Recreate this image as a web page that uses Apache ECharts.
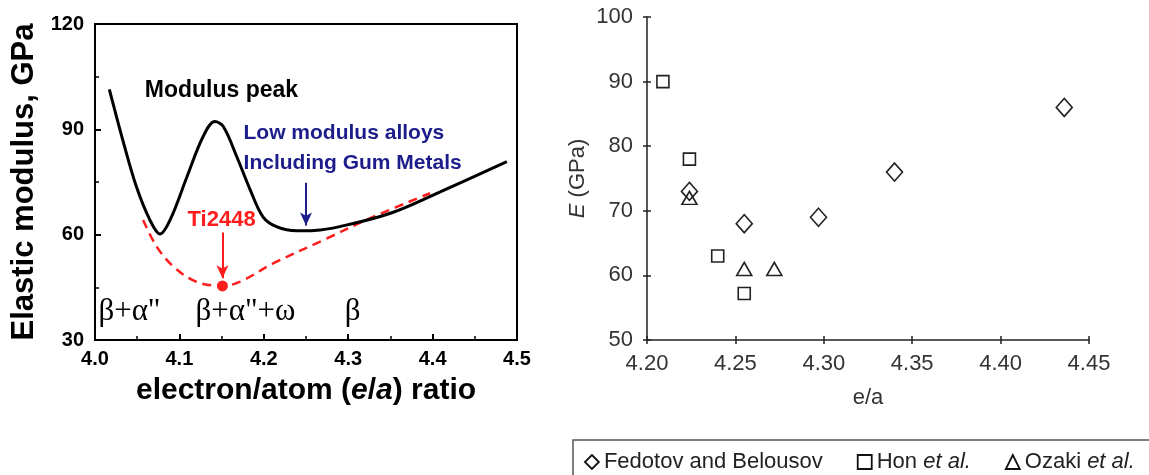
<!DOCTYPE html>
<html><head><meta charset="utf-8">
<script src="https://cdn.jsdelivr.net/npm/echarts@6/dist/echarts.min.js"></script>
<style>html,body{margin:0;padding:0;background:#fff}#c{width:1149px;height:475px}</style>
</head><body><div id="c"></div>
<script>
// ---- Left panel data ----
const curveX = [4.017, 4.034, 4.049, 4.065, 4.077, 4.089, 4.109, 4.128, 4.142, 4.152, 4.168, 4.184, 4.199, 4.215, 4.239, 4.260, 4.290, 4.350, 4.409, 4.488];
const curveY = [101.4, 86.0, 73.7, 64.2, 60.2, 64.2, 76.5, 87.9, 92.2, 90.8, 82.2, 72.7, 65.1, 62.3, 61.1, 61.2, 62.3, 66.1, 72.2, 80.8];
const dashX = [4.057, 4.073, 4.093, 4.120, 4.151, 4.172, 4.211, 4.271, 4.330, 4.397];
const dashY = [64.2, 56.6, 50.9, 46.6, 45.4, 46.6, 51.8, 58.5, 65.1, 71.8];
const tiPoint = [4.151, 45.4];
const redArrow = [[4.151, 60.6], [4.151, 47.6]];
const blueArrow = [[4.250, 74.8], [4.250, 62.6]];
const leftNotes = ['Modulus peak', 'Low modulus alloys', 'Including Gum Metals'];
const leftNotesX = [4.059, 4.176, 4.176];
const leftNotesY = [101.0, 88.9, 80.3];
const phaseLabels = ['β+α"', 'β+α"+ω', 'β'];
const phaseX = [4.004, 4.119, 4.296];
const phaseY = [38.1, 38.1, 38.1];
const tiLabel = ['Ti2448', 4.150, 64.2];

// ---- Right panel data ----
const fedotovX = [4.224, 4.255, 4.297, 4.340, 4.436];
const fedotovY = [73, 68, 69, 76, 86];
const honX = [4.209, 4.224, 4.240, 4.255];
const honY = [90, 78, 63, 57.2];
const ozakiX = [4.224, 4.255, 4.272];
const ozakiY = [72, 61, 61];

const zip = (xs, ys) => xs.map((x, i) => [x, ys[i]]);
const SANS = 'Liberation Sans, Arial, Helvetica, sans-serif';
const SERIF = 'Liberation Serif, Times New Roman, serif';
const BLUE = '#1c1c8a';
const RED = '#ff1c1c';

const chart = echarts.init(document.getElementById('c'), null, {renderer: 'canvas'});

const rightText = {fontFamily: SANS, fontSize: 22, color: '#333'};

chart.setOption({
  animation: false,
  backgroundColor: '#fff',
  graphic: [
    {type: 'rect', z: -1, silent: true, shape: {x: 573, y: 440, width: 620, height: 80},
     style: {fill: '#fff', stroke: '#555', lineWidth: 1.5}}
  ],
  grid: [
    {left: 95, right: 632, top: 24, bottom: 135, show: true, borderColor: '#000', borderWidth: 2, backgroundColor: 'transparent'},
    {left: 647, right: 60, top: 17, bottom: 135}
  ],
  xAxis: [
    {gridIndex: 0, type: 'value', min: 4.0, max: 4.5, interval: 0.1,
     name: 'electron/atom ({it|e}/{it|a}) ratio', nameLocation: 'middle', nameGap: 36,
     nameTextStyle: {fontFamily: SANS, fontSize: 30, fontWeight: 'bold', color: '#000',
       rich: {it: {fontFamily: SANS, fontSize: 30, fontWeight: 'bold', fontStyle: 'italic', color: '#000'}}},
     axisLine: {show: true, lineStyle: {color: '#000', width: 2}},
     axisTick: {show: true, inside: true, length: 6, lineStyle: {color: '#000', width: 2}},
     minorTick: {show: true, splitNumber: 2, length: 4, lineStyle: {color: '#000', width: 1.5}},
     splitLine: {show: false},
     axisLabel: {margin: 9, fontFamily: SANS, fontSize: 20, fontWeight: 'bold', color: '#000',
       formatter: v => v.toFixed(1)}},
    {gridIndex: 1, type: 'value', min: 4.20, max: 4.45, interval: 0.05,
     name: 'e/a', nameLocation: 'middle', nameGap: 47, nameTextStyle: rightText,
     axisLine: {show: true, lineStyle: {color: '#222', width: 1.5}},
     axisTick: {show: true, inside: false, length: 4, lineStyle: {color: '#222', width: 1.5}},
     splitLine: {show: false},
     axisLabel: Object.assign({margin: 13, formatter: v => v.toFixed(2)}, rightText)},
    {gridIndex: 1, type: 'value', min: 4.20, max: 4.45, interval: 0.05, position: 'bottom',
     axisLine: {show: false}, axisLabel: {show: false}, splitLine: {show: false},
     axisTick: {show: true, inside: true, length: 4, lineStyle: {color: '#222', width: 1.5}}}
  ],
  yAxis: [
    {gridIndex: 0, type: 'value', min: 30, max: 120, interval: 30,
     name: 'Elastic modulus, GPa', nameLocation: 'middle', nameGap: 55,
     nameTextStyle: {fontFamily: SANS, fontSize: 31, fontWeight: 'bold', color: '#000'},
     axisLine: {show: true, lineStyle: {color: '#000', width: 2}},
     axisTick: {show: true, inside: true, length: 6, lineStyle: {color: '#000', width: 2}},
     minorTick: {show: true, splitNumber: 2, length: 4, lineStyle: {color: '#000', width: 1.5}},
     splitLine: {show: false},
     axisLabel: {margin: 11, fontFamily: SANS, fontSize: 20, fontWeight: 'bold', color: '#000'}},
    {gridIndex: 1, type: 'value', min: 50, max: 100, interval: 10,
     name: '{it|E} (GPa)', nameLocation: 'middle', nameGap: 58,
     nameTextStyle: Object.assign({rich: {it: {fontFamily: SANS, fontSize: 22, color: '#333', fontStyle: 'italic'}}}, rightText),
     axisLine: {show: true, lineStyle: {color: '#222', width: 1.5}},
     axisTick: {show: true, inside: false, length: 4, lineStyle: {color: '#222', width: 1.5}},
     splitLine: {show: false},
     axisLabel: Object.assign({margin: 14}, rightText)},
    {gridIndex: 1, type: 'value', min: 50, max: 100, interval: 10, position: 'left',
     axisLine: {show: false}, axisLabel: {show: false}, splitLine: {show: false},
     axisTick: {show: true, inside: true, length: 4, lineStyle: {color: '#222', width: 1.5}}}
  ],
  legend: {
    left: 584, top: 451, width: 620, orient: 'horizontal',
    padding: 0, itemGap: 34, itemWidth: 14, itemHeight: 14,
    borderWidth: 0, backgroundColor: 'transparent',
    textStyle: {fontFamily: SANS, fontSize: 22, color: '#222',
      rich: {it: {fontFamily: SANS, fontSize: 22, color: '#222', fontStyle: 'italic'}}},
    formatter: n => n === 'Hon et al.' ? 'Hon {it|et al.}' : (n === 'Ozaki et al.' ? 'Ozaki {it|et al.}' : n),
    data: [
      {name: 'Fedotov and Belousov', icon: 'diamond', itemStyle: {color: '#fff', borderColor: '#111', borderWidth: 1.8}},
      {name: 'Hon et al.', icon: 'rect', itemStyle: {color: '#fff', borderColor: '#111', borderWidth: 1.8}},
      {name: 'Ozaki et al.', icon: 'triangle', itemStyle: {color: '#fff', borderColor: '#111', borderWidth: 1.8}}
    ]
  },
  series: [
    {type: 'line', xAxisIndex: 0, yAxisIndex: 0, data: zip(curveX, curveY), smooth: 0.35,
     showSymbol: false, symbol: 'none', lineStyle: {color: '#000', width: 3}, z: 3},
    {type: 'line', xAxisIndex: 0, yAxisIndex: 0, data: zip(dashX, dashY), smooth: 0.35,
     showSymbol: false, symbol: 'none', lineStyle: {color: RED, width: 2.5, type: [9, 6]}, z: 2,
     markLine: {silent: true, symbol: ['none', 'arrow'], symbolSize: [9, 13], label: {show: false},
       lineStyle: {color: RED, width: 2, type: 'solid'},
       data: [[{coord: redArrow[0]}, {coord: redArrow[1]}]]}},
    {type: 'line', xAxisIndex: 0, yAxisIndex: 0, data: [], symbol: 'none',
     markLine: {silent: true, symbol: ['none', 'arrow'], symbolSize: [9, 13], label: {show: false},
       lineStyle: {color: BLUE, width: 2, type: 'solid'},
       data: [[{coord: blueArrow[0]}, {coord: blueArrow[1]}]]}},
    {type: 'scatter', xAxisIndex: 0, yAxisIndex: 0, data: [tiPoint], symbol: 'circle', symbolSize: 11,
     itemStyle: {color: RED, opacity: 1}, z: 5},
    {type: 'scatter', xAxisIndex: 0, yAxisIndex: 0, symbolSize: 0, silent: true,
     data: leftNotes.map((t, i) => ({value: [leftNotesX[i], leftNotesY[i]], name: t,
       label: {color: i === 0 ? '#000' : BLUE, fontSize: i === 0 ? 23 : 21}})),
     label: {show: true, position: 'inside', align: 'left', verticalAlign: 'middle', opacity: 1,
       formatter: p => p.name, fontFamily: SANS, fontWeight: 'bold', fontSize: 21, color: '#000'},
     itemStyle: {color: 'transparent', opacity: 1}},
    {type: 'scatter', xAxisIndex: 0, yAxisIndex: 0, symbolSize: 0, silent: true,
     data: [{value: [tiLabel[1], tiLabel[2]], name: tiLabel[0]}],
     label: {show: true, position: 'inside', align: 'center', verticalAlign: 'middle', opacity: 1,
       formatter: p => p.name, fontFamily: SANS, fontWeight: 'bold', fontSize: 22, color: RED},
     itemStyle: {color: 'transparent', opacity: 1}},
    {type: 'scatter', xAxisIndex: 0, yAxisIndex: 0, symbolSize: 0, silent: true,
     data: phaseLabels.map((t, i) => ({value: [phaseX[i], phaseY[i]], name: t})),
     label: {show: true, position: 'inside', align: 'left', verticalAlign: 'middle', opacity: 1,
       formatter: p => p.name, fontFamily: SERIF, fontSize: 31, color: '#000'},
     itemStyle: {color: 'transparent', opacity: 1}},
    {name: 'Fedotov and Belousov', type: 'scatter', xAxisIndex: 1, yAxisIndex: 1,
     data: zip(fedotovX, fedotovY), symbol: 'diamond', symbolSize: [16, 18],
     itemStyle: {color: '#fff', borderColor: '#222', borderWidth: 1.6, opacity: 1}, z: 4},
    {name: 'Hon et al.', type: 'scatter', xAxisIndex: 1, yAxisIndex: 1,
     data: zip(honX, honY), symbol: 'rect', symbolSize: 12,
     itemStyle: {color: '#fff', borderColor: '#222', borderWidth: 1.6, opacity: 1}, z: 3},
    {name: 'Ozaki et al.', type: 'scatter', xAxisIndex: 1, yAxisIndex: 1,
     data: zip(ozakiX, ozakiY), symbol: 'triangle', symbolSize: [15, 13],
     itemStyle: {color: 'transparent', borderColor: '#222', borderWidth: 1.6, opacity: 1}, z: 5}
  ]
});
</script>
</body></html>
